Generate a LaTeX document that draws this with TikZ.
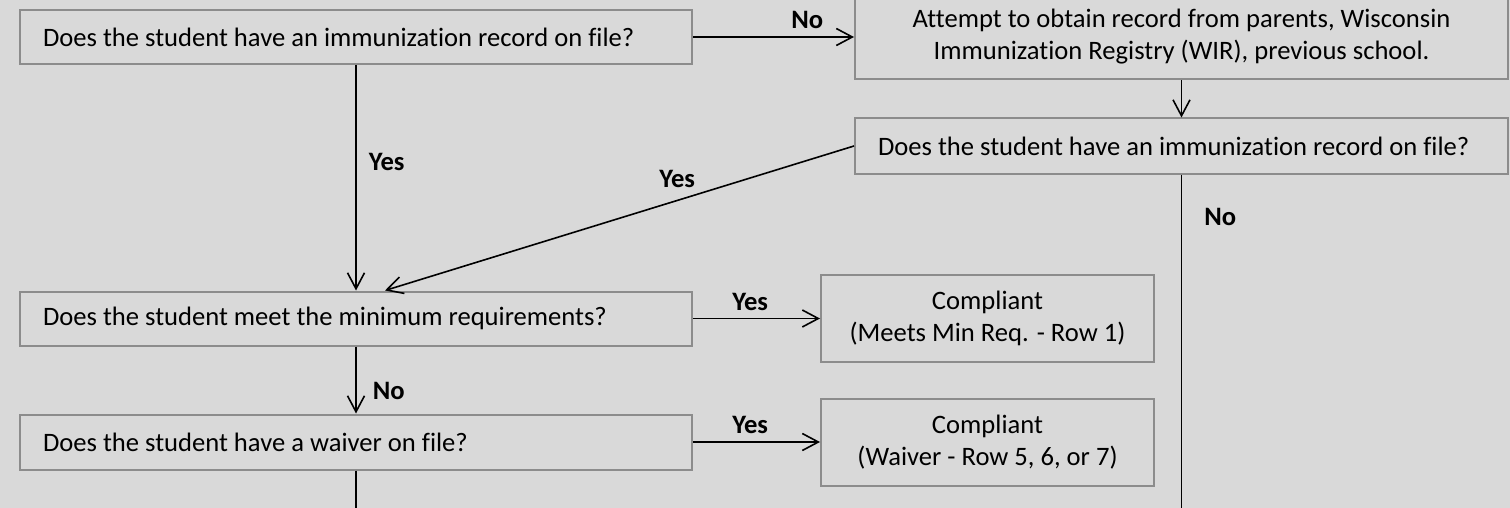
\documentclass[tikz,border=0pt]{standalone}
\usepackage{fontspec}
\setmainfont{Carlito}[Ligatures={NoCommon}]
\usetikzlibrary{arrows.meta}
\usetikzlibrary{positioning}
\definecolor{bgfill}{HTML}{D9D9D9}
\definecolor{boxline}{HTML}{8C8C8C}

\begin{document}
\begin{tikzpicture}[%
        x=0.5pt, y=-0.5pt,
        every node/.style={inner sep=0pt, font=\fontsize{13.3pt}{16pt}\selectfont},
        qbox/.style={draw=boxline, fill=bgfill, line width=1pt, text width=313pt, inner xsep=11.5pt, align=flush left, minimum height=27pt},
        rbox/.style={draw=boxline, fill=bgfill, line width=1pt, align=center, minimum width=166.5pt, minimum height=43.5pt},
        lbl/.style={font=\fontsize{13.3pt}{16pt}\selectfont\bfseries, inner sep=2pt},
        line width=0.8pt, >={Straight Barb[length=8pt,width=8.5pt]}
      ]
      \fill [bgfill] (0,0) rectangle (1510,508);
      \useasboundingbox (0,0) rectangle (1510,508);
      \node [] (0) [qbox] at (356,37) {Does the student have an immunization record on file?};
      \node [] (1) [rbox, minimum width=326.5pt, minimum height=42.5pt] at (1181.5,37) {Attempt to obtain record from parents, Wisconsin\\Immunization Registry (WIR), previous school.};
      \node [] (2) [qbox, below=18.5pt of 1, text width=303.5pt, minimum height=27.5pt] {Does the student have an immunization record on file?};
      \node [] (3) [qbox] at (356,318.5) {Does the student meet the minimum requirements?};
      \node [] (4) [qbox, minimum height=27.5pt] at (356,442) {Does the student have a waiver on file?};
      \node [] (5) [rbox] at (987.5,318.5) {Compliant\\(Meets Min Req. - Row 1)};
      \node [] (6) [rbox] at (987.5,442) {Compliant\\(Waiver - Row 5, 6, or 7)};
      \coordinate (7) at (356,512);
      \coordinate (8) at (1181.5,512);
      \path [draw] (0) edge[->] node [lbl, pos=0.71, above=2pt] {No} (1)
      (0) edge[->] node [lbl, pos=0.43, right=4pt] {Yes} (3)
      (1) edge[->] (2)
      (2.west) edge[->] node [lbl, pos=0.377, above=4pt] {Yes} ([xshift=14.5pt]3.north)
      (3) edge[->] node [lbl, pos=0.45, above=1.5pt] {Yes} (5)
      (3) edge[->] node [lbl, pos=0.66, right=6pt] {No} (4)
      (4) edge[->] node [lbl, pos=0.45, above=2pt] {Yes} (6)
      (4) edge (7)
      (2) edge node [lbl, pos=0.126, right=9pt] {No} (8);
    \end{tikzpicture}
\end{document}
